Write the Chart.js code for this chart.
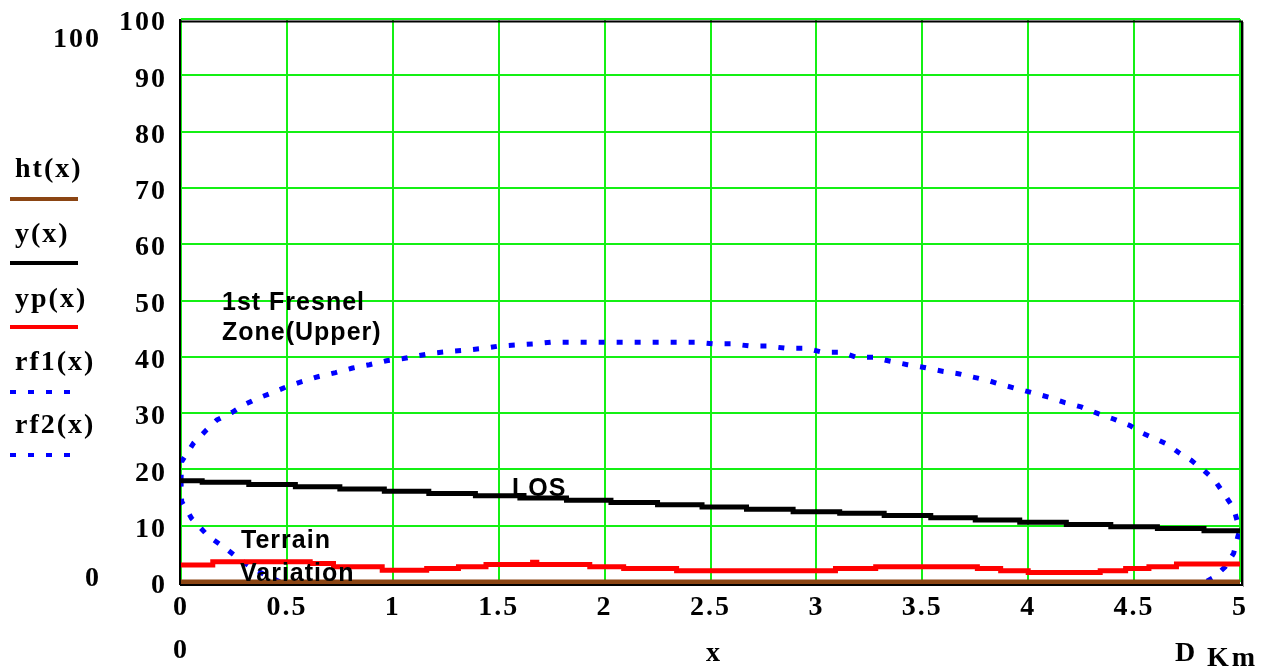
<!DOCTYPE html>
<html>
<head>
<meta charset="utf-8">
<script src="https://cdn.jsdelivr.net/npm/chart.js@4"></script>
<style>
  body { margin: 0; background: #fff; }
  #wrap { position: relative; width: 1274px; height: 668px; }
  .lbl { position: absolute; font-family: "Liberation Serif", "Times New Roman", serif; font-weight: bold;
         font-size: 28px; letter-spacing: 2px; line-height: 28px; white-space: nowrap; color: #000; }
  .note { position: absolute; font-family: "Liberation Sans", Arial, sans-serif; font-weight: bold;
          font-size: 25px; letter-spacing: 1px; line-height: 25px; white-space: nowrap; color: #000; }
  .key { position: absolute; left: 10px; height: 4px; width: 68px; }
  .dots { width: 62px; background: repeating-linear-gradient(90deg, #0000ff 0 6px, transparent 6px 18px); }
</style>
</head>
<body>
<div id="wrap">
  <canvas id="chart" width="1274" height="668"></canvas>

  <div class="lbl" style="left:53px;top:24px">100</div>
  <div class="lbl" style="left:85px;top:563px">0</div>
  <div class="lbl" style="left:173px;top:635px">0</div>
  <div class="lbl" style="left:706px;top:638px">x</div>
  <div class="lbl" style="left:1175px;top:638px">D</div>
  <div class="lbl" style="left:1207px;top:643px;letter-spacing:3px">Km</div>

  <div class="lbl" style="left:15px;top:154px">ht(x)</div>
  <div class="key" style="top:197px;background:#8b4513"></div>
  <div class="lbl" style="left:15px;top:219px">y(x)</div>
  <div class="key" style="top:261px;background:#000"></div>
  <div class="lbl" style="left:15px;top:284px">yp(x)</div>
  <div class="key" style="top:325px;background:#ff0000"></div>
  <div class="lbl" style="left:15px;top:347px">rf1(x)</div>
  <div class="key dots" style="top:390px"></div>
  <div class="lbl" style="left:15px;top:410px">rf2(x)</div>
  <div class="key dots" style="top:453px"></div>

  <div class="note" style="left:222px;top:289px">1st Fresnel</div>
  <div class="note" style="left:222px;top:319px">Zone(Upper)</div>
  <div class="note" style="left:512px;top:475px">LOS</div>
  <div class="note" style="left:241px;top:527px">Terrain</div>
  <div class="note" style="left:240px;top:560px">Variation</div>
</div>
<script>
// ground ht(x)
const groundX = [0, 5];
const groundY = [0, 0];

// line of sight y(x), step starts
const losX = [0, 0.1, 0.32, 0.54, 0.75, 0.96, 1.17, 1.39, 1.6, 1.82, 2.03, 2.25, 2.46, 2.67, 2.89,
              3.11, 3.32, 3.54, 3.75, 3.96, 4.18, 4.39, 4.61, 4.83, 5];
const losY = [18.0, 17.7, 17.3, 16.9, 16.5, 16.1, 15.7, 15.3, 14.9, 14.5, 14.1, 13.7, 13.3, 12.9, 12.5,
              12.2, 11.8, 11.4, 11.0, 10.6, 10.2, 9.8, 9.5, 9.1, 9.1];

// terrain yp(x), step starts
const terrX = [0, 0.15, 0.61, 0.72, 0.95, 1.16, 1.31, 1.44, 1.66, 1.68, 1.93, 2.09, 2.34, 3.09, 3.28,
               3.76, 3.87, 4.0, 4.34, 4.46, 4.57, 4.7, 5];
const terrY = [3.0, 3.6, 3.3, 2.7, 2.1, 2.4, 2.7, 3.1, 3.5, 3.1, 2.7, 2.4, 2.0, 2.4, 2.7,
               2.4, 2.0, 1.7, 2.0, 2.4, 2.7, 3.2, 3.2];

// 1st fresnel zone, upper rf1(x)
const rf1X = [0, 0.003, 0.06, 0.12, 0.17, 0.24, 0.3, 0.36, 0.43, 0.5, 0.57, 0.65, 0.73, 0.81, 0.89, 0.97,
              1.05, 1.12, 1.2, 1.28, 1.35, 1.43, 1.5, 1.58, 1.67, 1.75, 1.83, 1.91, 2.0, 2.2, 2.43, 2.51,
              2.6, 2.69, 2.77, 2.86, 2.95, 3.03, 3.12, 3.19, 3.27, 3.35, 3.43, 3.51, 3.6, 3.67, 3.74,
              3.81, 3.87, 3.95, 4.02, 4.1, 4.17, 4.25, 4.33, 4.4, 4.48, 4.53, 4.59, 4.66, 4.71, 4.77,
              4.83, 4.88, 4.92, 4.97, 4.99, 5.0];
const rf1Y = [18, 21.4, 24.7, 27.0, 28.8, 30.1, 31.5, 32.6, 33.6, 34.7, 35.6, 36.5, 37.2, 38.0, 38.6, 39.3,
              39.7, 40.2, 40.7, 41.0, 41.2, 41.5, 41.9, 42.1, 42.3, 42.6, 42.6, 42.6, 42.6, 42.6, 42.6, 42.3,
              42.3, 41.9, 41.9, 41.5, 41.5, 40.8, 40.8, 39.9, 39.9, 39.2, 38.6, 38.1, 37.4, 37.0, 36.4,
              35.8, 35.1, 34.3, 33.6, 32.8, 31.9, 31.1, 29.9, 29.0, 27.8, 26.6, 25.6, 24.4, 23.0, 21.6,
              19.8, 18.1, 15.9, 13.1, 10.4, 9.3];

// 1st fresnel zone, lower rf2(x) (middle part runs below the axis)
const rf2X = [0, 0.003, 0.05, 0.13, 0.21, 0.27, 0.34, 0.4, 0.48, 0.6, 1.0, 2.0, 3.0, 4.0, 4.5, 4.7, 4.8,
              4.88, 4.93, 4.97, 4.99, 5.0];
const rf2Y = [18, 14.3, 11.3, 8.1, 6.0, 4.2, 2.4, 1.2, -0.2, -2.5, -8, -13, -13, -10, -5, -2.5, -0.8,
              0.9, 2.7, 5.1, 8.1, 9.3];

function pts(xs, ys) {
  return xs.map((x, i) => ({ x: x, y: ys[i] }));
}

const frame = {
  id: "frame",
  beforeDraw(chart) { chart.ctx.letterSpacing = "2px"; },
  afterDraw(chart) {
    const ctx = chart.ctx;
    const a = chart.chartArea;
    ctx.save();
    ctx.letterSpacing = "0px";
    ctx.strokeStyle = "#000";
    ctx.lineWidth = 2;
    ctx.beginPath();
    ctx.moveTo(a.left - 1, a.top);
    ctx.lineTo(a.left - 1, a.bottom + 3);
    ctx.moveTo(a.left - 1, a.top + 2.5);
    ctx.lineTo(a.right + 3, a.top + 2.5);
    ctx.moveTo(a.right + 2, a.top + 2);
    ctx.lineTo(a.right + 2, a.bottom + 4);
    ctx.moveTo(a.left - 1, a.bottom + 3);
    ctx.lineTo(a.right + 3, a.bottom + 3);
    ctx.stroke();
    ctx.strokeStyle = "#999";
    ctx.lineWidth = 1;
    ctx.beginPath();
    ctx.moveTo(a.right + 3.5, a.top + 3);
    ctx.lineTo(a.right + 3.5, a.bottom + 5);
    ctx.stroke();
    ctx.restore();
  }
};

const tickFont = { family: "'Liberation Serif', 'Times New Roman', serif", size: 28, weight: "bold" };
const gridGreen = "rgb(20,240,20)";

new Chart(document.getElementById("chart"), {
  type: "line",
  data: {
    datasets: [
      { label: "ht(x)", data: pts(groundX, groundY), borderColor: "#8b4513", borderWidth: 5, clip: false },
      { label: "yp(x)", data: pts(terrX, terrY), borderColor: "#ff0000", borderWidth: 5, stepped: true },
      { label: "y(x)", data: pts(losX, losY), borderColor: "#000000", borderWidth: 5, stepped: true },
      { label: "rf1(x)", data: pts(rf1X, rf1Y), borderColor: "#0000ff", borderWidth: 5, borderDash: [6, 12] },
      { label: "rf2(x)", data: pts(rf2X, rf2Y), borderColor: "#0000ff", borderWidth: 5, borderDash: [6, 12] }
    ]
  },
  options: {
    responsive: false,
    animation: false,
    events: [],
    elements: { point: { radius: 0 }, line: { tension: 0, fill: false } },
    layout: { padding: { left: 0, top: 19, right: 34, bottom: 46 } },
    plugins: { legend: { display: false }, tooltip: { enabled: false } },
    scales: {
      x: {
        type: "linear", min: 0, max: 5,
        afterFit(scale) { scale.height = 40; scale.paddingLeft = 0; scale.paddingRight = 0; },
        grid: { color: gridGreen, lineWidth: 2, drawTicks: false },
        border: { display: false },
        ticks: { stepSize: 0.5, color: "#000", font: tickFont, padding: 9, maxRotation: 0,
                 callback: (v) => String(v) }
      },
      y: {
        min: 0, max: 100,
        afterFit(scale) { scale.width = 181; scale.paddingTop = 0; scale.paddingBottom = 0; },
        grid: { color: gridGreen, lineWidth: 2, drawTicks: false },
        border: { display: false },
        ticks: { stepSize: 10, color: "#000", font: tickFont, padding: 14, labelOffset: 4 }
      }
    }
  },
  plugins: [frame]
});
</script>
</body>
</html>
